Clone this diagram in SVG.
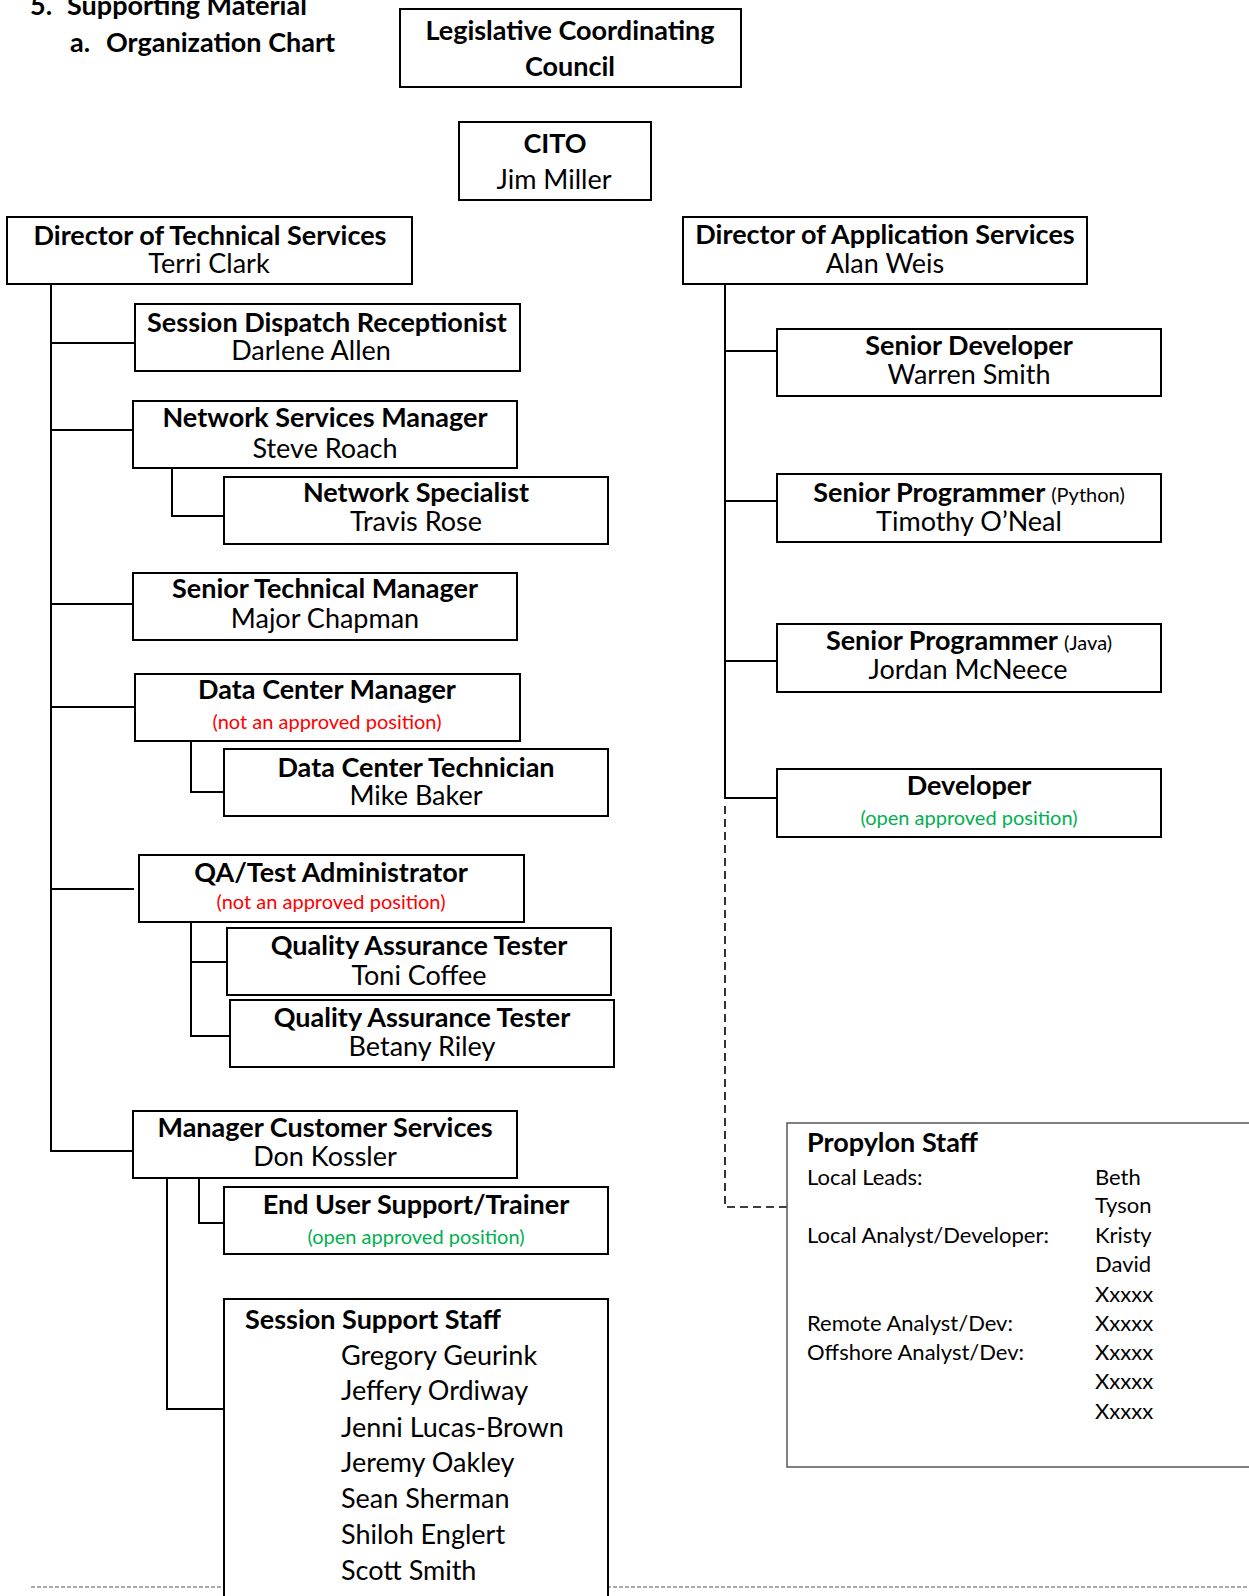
<svg xmlns="http://www.w3.org/2000/svg" width="1249" height="1596" viewBox="0 0 1249 1596">
<style>
text{font-family:Lato,"Liberation Sans",sans-serif;fill:#000}
.b{font-weight:bold;font-size:27px}
.r{font-size:27px}
.c{text-anchor:middle}
.s{font-size:20px}
.red{fill:#ff0000}
.grn{fill:#00b050}
.p{font-size:22px}
.box{fill:#fff;stroke:#000;stroke-width:2}
.ln{fill:none;stroke:#000;stroke-width:2}
.dash{fill:none;stroke:#000;stroke-width:1.6;stroke-dasharray:8 5}
</style>
<rect width="1249" height="1596" fill="#fff"/>
<text class="b" y="15"><tspan x="30">5.</tspan><tspan x="67">Supporting Material</tspan></text>
<text class="b" y="52"><tspan x="70">a.</tspan><tspan x="106">Organization Chart</tspan></text>
<line x1="31" y1="1587" x2="1249" y2="1587" stroke="#555" stroke-width="1" stroke-dasharray="4 2"/>
<g id="connectors">
<path class="ln" d="M51 284V1151H133M51 343H135M51 430H133M51 604H133M51 707H134M51 889H134"/>
<path class="ln" d="M172 468V516H224M191 741V792H224M191 922V1036H230M191 962H227M199 1178V1223H224M167 1178V1409H224"/>
<path class="ln" d="M725 284V798H777M725 351H777M725 501H777M725 661H777"/>
<path class="dash" d="M725 806V1207H787"/>
</g>
<g id="lcc"><rect class="box" x="400" y="9" width="341" height="78"/>
<text class="b c" x="570" y="40">Legislative Coordinating</text>
<text class="b c" x="570" y="76">Council</text></g>
<g id="cito"><rect class="box" x="459" y="122" width="192" height="78"/>
<text class="b c" x="555" y="153">CITO</text>
<text class="r c" x="554" y="189">Jim Miller</text></g>
<g id="dts"><rect class="box" x="7" y="217" width="405" height="67"/>
<text class="b c" x="210" y="245">Director of Technical Services</text>
<text class="r c" x="209" y="273">Terri Clark</text></g>
<g id="sdr"><rect class="box" x="135" y="304" width="385" height="67"/>
<text class="b c" x="327" y="332">Session Dispatch Receptionist</text>
<text class="r c" x="311" y="360">Darlene Allen</text></g>
<g id="nsm"><rect class="box" x="133" y="401" width="384" height="67"/>
<text class="b c" x="325" y="427">Network Services Manager</text>
<text class="r c" x="325" y="458">Steve Roach</text></g>
<g id="ns"><rect class="box" x="224" y="477" width="384" height="67"/>
<text class="b c" x="416" y="502">Network Specialist</text>
<text class="r c" x="416" y="531">Travis Rose</text></g>
<g id="stm"><rect class="box" x="133" y="573" width="384" height="67"/>
<text class="b c" x="325" y="598">Senior Technical Manager</text>
<text class="r c" x="325" y="628">Major Chapman</text></g>
<g id="dcm"><rect class="box" x="135" y="674" width="385" height="67"/>
<text class="b c" x="327" y="699">Data Center Manager</text>
<text class="s c red" x="327" y="729">(not an approved position)</text></g>
<g id="dct"><rect class="box" x="224" y="749" width="384" height="67"/>
<text class="b c" x="416" y="777">Data Center Technician</text>
<text class="r c" x="416" y="805">Mike Baker</text></g>
<g id="qa"><rect class="box" x="139" y="855" width="385" height="67"/>
<text class="b c" x="331" y="882">QA/Test Administrator</text>
<text class="s c red" x="331" y="909">(not an approved position)</text></g>
<g id="qat1"><rect class="box" x="227" y="928" width="384" height="67"/>
<text class="b c" x="419" y="955">Quality Assurance Tester</text>
<text class="r c" x="419" y="985">Toni Coffee</text></g>
<g id="qat2"><rect class="box" x="230" y="1000" width="384" height="67"/>
<text class="b c" x="422" y="1027">Quality Assurance Tester</text>
<text class="r c" x="422" y="1056">Betany Riley</text></g>
<g id="mcs"><rect class="box" x="133" y="1111" width="384" height="67"/>
<text class="b c" x="325" y="1137">Manager Customer Services</text>
<text class="r c" x="325" y="1166">Don Kossler</text></g>
<g id="eus"><rect class="box" x="224" y="1187" width="384" height="67"/>
<text class="b c" x="416" y="1214">End User Support/Trainer</text>
<text class="s c grn" x="416" y="1244">(open approved position)</text></g>
<g id="sss"><rect class="box" x="224" y="1299" width="384" height="310"/>
<text class="b" x="245" y="1329">Session Support Staff</text>
<text class="r" x="341" y="1365">Gregory Geurink</text>
<text class="r" x="341" y="1400">Jeffery Ordiway</text>
<text class="r" x="341" y="1437">Jenni Lucas-Brown</text>
<text class="r" x="341" y="1472">Jeremy Oakley</text>
<text class="r" x="341" y="1508">Sean Sherman</text>
<text class="r" x="341" y="1544">Shiloh Englert</text>
<text class="r" x="341" y="1580">Scott Smith</text></g>
<g id="das"><rect class="box" x="683" y="217" width="404" height="67"/>
<text class="b c" x="885" y="244">Director of Application Services</text>
<text class="r c" x="885" y="273">Alan Weis</text></g>
<g id="sd"><rect class="box" x="777" y="329" width="384" height="67"/>
<text class="b c" x="969" y="355">Senior Developer</text>
<text class="r c" x="969" y="384">Warren Smith</text></g>
<g id="spp"><rect class="box" x="777" y="474" width="384" height="68"/>
<text class="b c" x="969" y="502">Senior Programmer <tspan class="s" font-weight="normal">(Python)</tspan></text>
<text class="r c" x="969" y="531">Timothy O’Neal</text></g>
<g id="spj"><rect class="box" x="777" y="624" width="384" height="68"/>
<text class="b c" x="969" y="650">Senior Programmer <tspan class="s" font-weight="normal">(Java)</tspan></text>
<text class="r c" x="968" y="679">Jordan McNeece</text></g>
<g id="dev"><rect class="box" x="777" y="769" width="384" height="68"/>
<text class="b c" x="969" y="795">Developer</text>
<text class="s c grn" x="969" y="825">(open approved position)</text></g>
<g id="propylon"><rect x="787" y="1123" width="480" height="344" fill="#fff" stroke="#555" stroke-width="1.5"/>
<text class="b" x="807" y="1152" font-size="25">Propylon Staff</text>
<text class="p" x="807" y="1185">Local Leads:</text>
<text class="p" x="807" y="1243">Local Analyst/Developer:</text>
<text class="p" x="807" y="1331">Remote Analyst/Dev:</text>
<text class="p" x="807" y="1360">Offshore Analyst/Dev:</text>
<text class="p" x="1095" y="1185">Beth</text>
<text class="p" x="1095" y="1213">Tyson</text>
<text class="p" x="1095" y="1243">Kristy</text>
<text class="p" x="1095" y="1272">David</text>
<text class="p" x="1095" y="1302">Xxxxx</text>
<text class="p" x="1095" y="1331">Xxxxx</text>
<text class="p" x="1095" y="1360">Xxxxx</text>
<text class="p" x="1095" y="1389">Xxxxx</text>
<text class="p" x="1095" y="1419">Xxxxx</text></g>
</svg>
